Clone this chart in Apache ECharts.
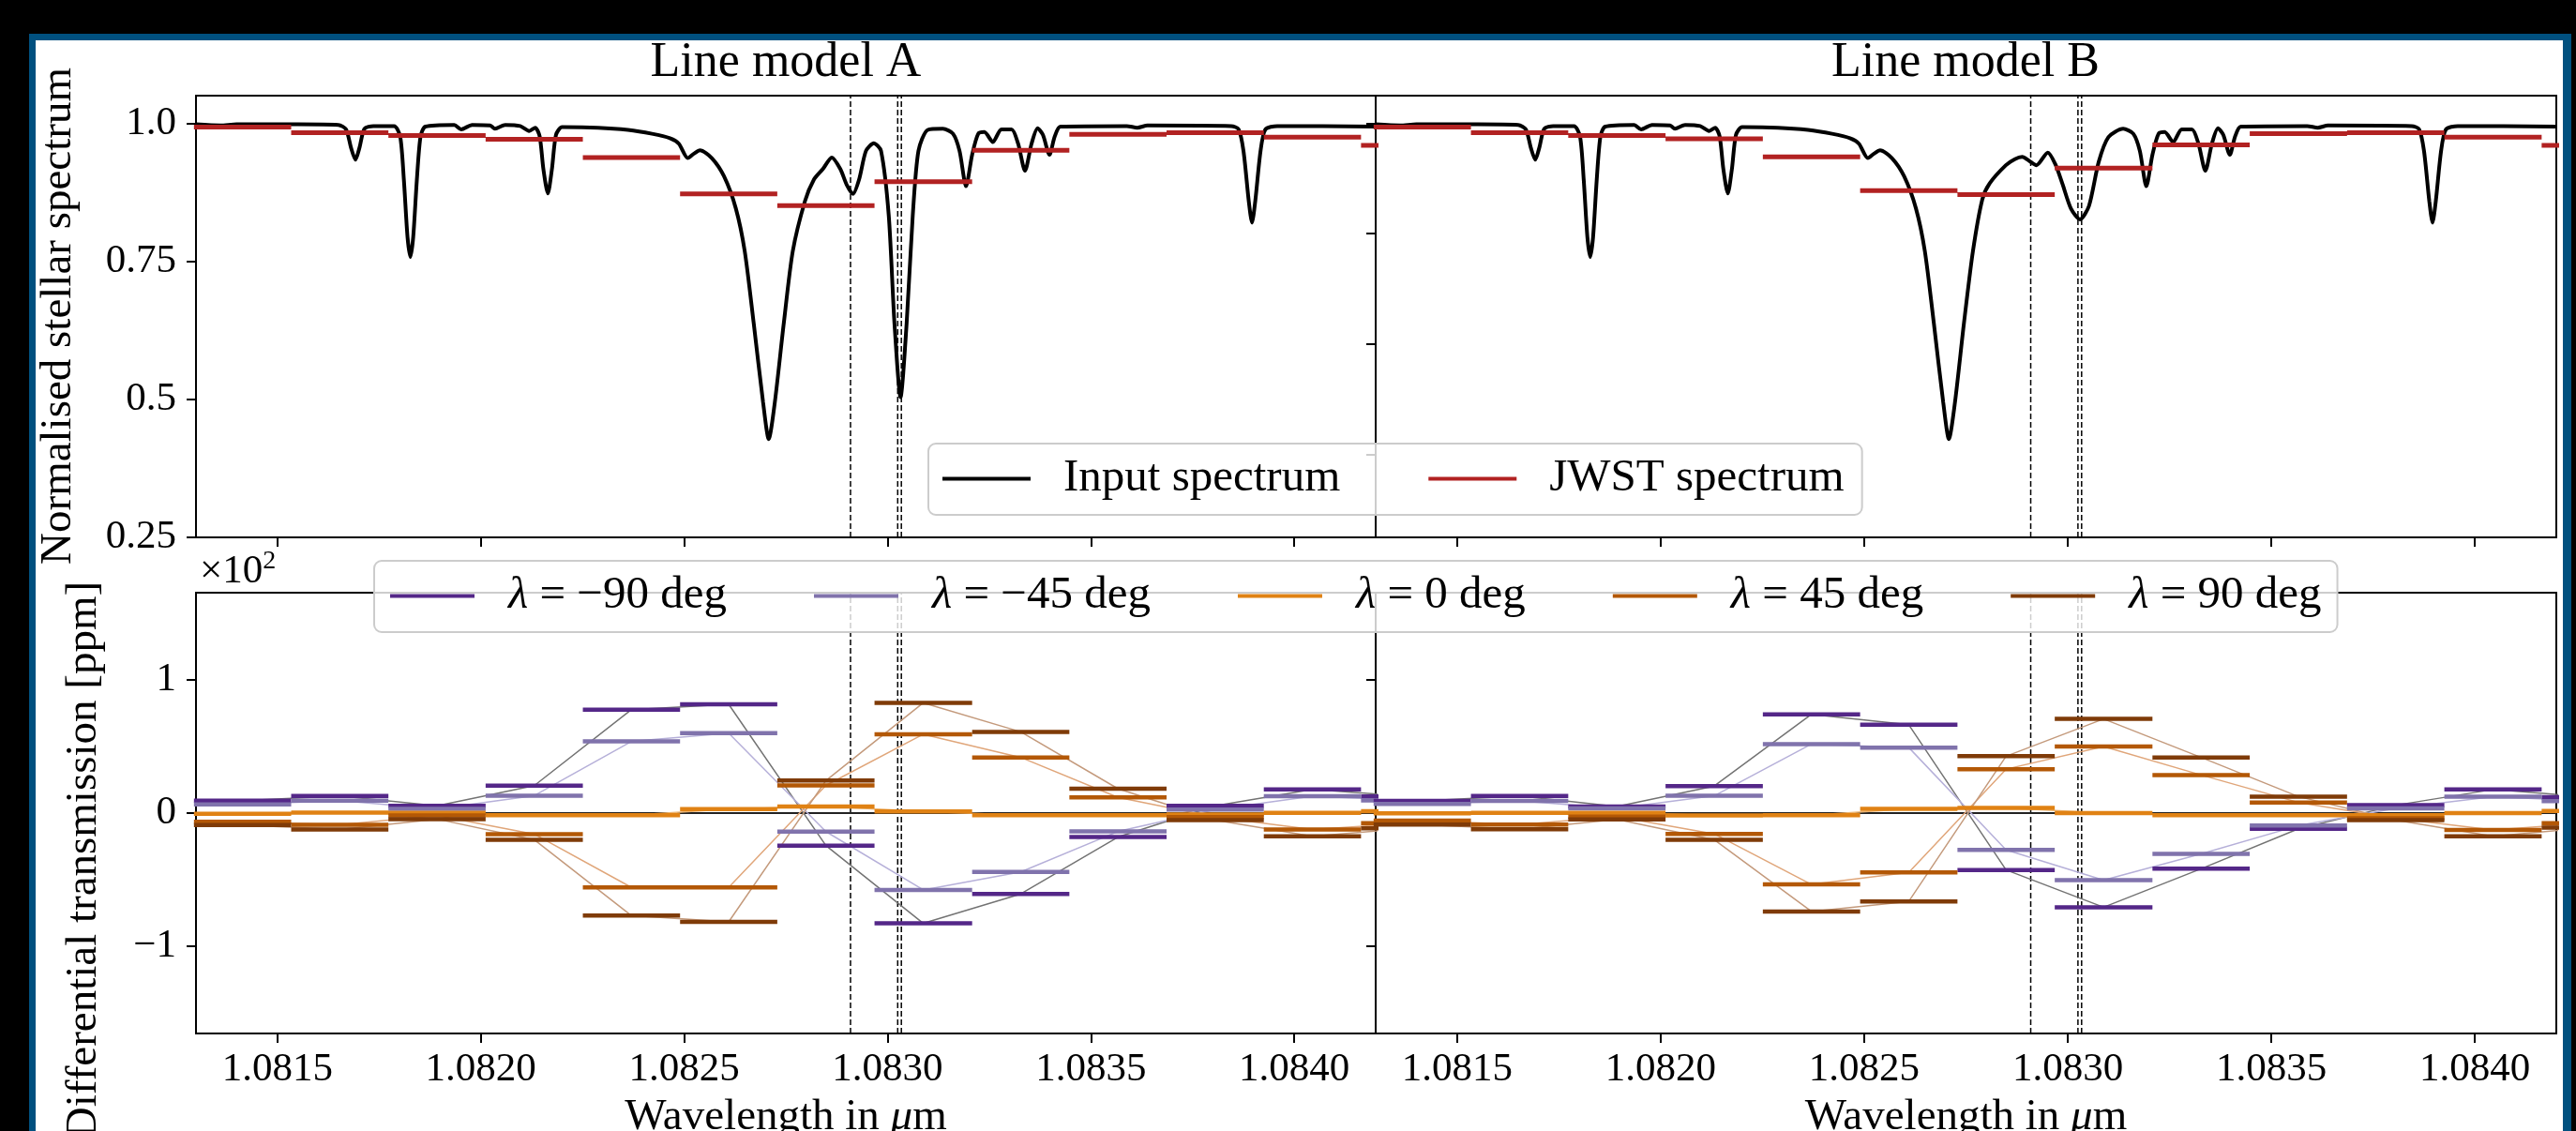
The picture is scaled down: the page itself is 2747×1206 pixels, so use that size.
<!DOCTYPE html>
<html>
<head>
<meta charset="utf-8">
<title>Line model A / B</title>
<script src="https://cdn.jsdelivr.net/npm/echarts@6/dist/echarts.min.js"></script>
<style>
  html, body { margin: 0; padding: 0; background: #000; }
  #frame { position: absolute; left: 31px; top: 36px; width: 2711px; height: 1200px; background: #00507f; }
  #paper { position: absolute; left: 38px; top: 43px; width: 2695px; height: 1170px; background: #fff; }
  #chart { position: absolute; left: 0; top: 0; width: 2747px; height: 1206px; }
</style>
</head>
<body>
<div id="frame"></div>
<div id="paper"></div>
<div id="chart"></div>
<script>
// JWST pixel bins (edges, in micron)
var binEdges = [1.081295, 1.081534, 1.081773, 1.082012, 1.082251, 1.082490, 1.082729,
                1.082968, 1.083208, 1.083447, 1.083686, 1.083925, 1.084164, 1.084403];

// binned JWST spectrum
var jwstA = [0.993, 0.983, 0.978, 0.971, 0.938, 0.872, 0.851, 0.894, 0.951, 0.980, 0.983, 0.975, 0.960];
var jwstB = [0.993, 0.983, 0.978, 0.972, 0.939, 0.878, 0.871, 0.919, 0.961, 0.981, 0.983, 0.975, 0.960];

// input stellar spectrum [wavelength, flux]
var specA = [
  [1.081300, 0.998], [1.081360, 0.996], [1.081400, 0.998], [1.081550, 0.998], [1.081650, 0.997],
  [1.081669, 0.989], [1.081681, 0.956], [1.081692, 0.934], [1.081702, 0.956], [1.081714, 0.990],
  [1.081736, 0.995], [1.081787, 0.995], [1.081802, 0.976], [1.081811, 0.898], [1.081820, 0.794],
  [1.081827, 0.758], [1.081834, 0.794], [1.081843, 0.898], [1.081852, 0.976], [1.081864, 0.994],
  [1.081935, 0.997], [1.081952, 0.989], [1.081979, 0.997], [1.082023, 0.996], [1.082035, 0.990],
  [1.082060, 0.997], [1.082097, 0.995], [1.082119, 0.986], [1.082134, 0.992], [1.082145, 0.976],
  [1.082154, 0.917], [1.082165, 0.873], [1.082175, 0.917], [1.082185, 0.979], [1.082200, 0.993],
  [1.082288, 0.992], [1.082362, 0.988], [1.082421, 0.981], [1.082465, 0.973], [1.082487, 0.963],
  [1.082509, 0.937], [1.082524, 0.945], [1.082539, 0.951], [1.082568, 0.937], [1.082598, 0.904],
  [1.082627, 0.846], [1.082649, 0.768], [1.082671, 0.638], [1.082694, 0.495], [1.082708, 0.428],
  [1.082723, 0.495], [1.082745, 0.638], [1.082767, 0.768], [1.082797, 0.859], [1.082819, 0.898],
  [1.082841, 0.917], [1.082863, 0.938], [1.082884, 0.917], [1.082900, 0.888], [1.082915, 0.872],
  [1.082930, 0.898], [1.082947, 0.950], [1.082966, 0.964], [1.082984, 0.950], [1.083003, 0.833],
  [1.083017, 0.638], [1.083032, 0.504], [1.083047, 0.638], [1.083062, 0.833], [1.083076, 0.950],
  [1.083099, 0.988], [1.083136, 0.990], [1.083161, 0.981], [1.083177, 0.950], [1.083193, 0.886],
  [1.083208, 0.943], [1.083223, 0.981], [1.083238, 0.984], [1.083259, 0.966], [1.083280, 0.989],
  [1.083305, 0.989], [1.083321, 0.963], [1.083338, 0.914], [1.083354, 0.963], [1.083369, 0.991],
  [1.083382, 0.979], [1.083398, 0.943], [1.083411, 0.976], [1.083425, 0.994], [1.083588, 0.995],
  [1.083614, 0.992], [1.083639, 0.996], [1.083845, 0.995], [1.083863, 0.989], [1.083875, 0.950],
  [1.083888, 0.859], [1.083896, 0.820], [1.083904, 0.859], [1.083917, 0.950], [1.083929, 0.989],
  [1.083958, 0.995], [1.084200, 0.994]
];
var specB = [
  [1.081300, 0.998], [1.081360, 0.996], [1.081400, 0.998], [1.081550, 0.998], [1.081650, 0.997],
  [1.081669, 0.989], [1.081681, 0.956], [1.081692, 0.934], [1.081702, 0.956], [1.081714, 0.990],
  [1.081736, 0.995], [1.081787, 0.995], [1.081802, 0.976], [1.081811, 0.898], [1.081820, 0.794],
  [1.081827, 0.758], [1.081834, 0.794], [1.081843, 0.898], [1.081852, 0.976], [1.081864, 0.994],
  [1.081935, 0.997], [1.081952, 0.989], [1.081979, 0.997], [1.082023, 0.996], [1.082035, 0.990],
  [1.082060, 0.997], [1.082097, 0.995], [1.082119, 0.986], [1.082134, 0.992], [1.082145, 0.976],
  [1.082154, 0.917], [1.082165, 0.873], [1.082175, 0.917], [1.082185, 0.979], [1.082200, 0.993],
  [1.082288, 0.992], [1.082362, 0.988], [1.082421, 0.981], [1.082465, 0.973], [1.082487, 0.963],
  [1.082509, 0.937], [1.082524, 0.945], [1.082539, 0.951], [1.082568, 0.937], [1.082598, 0.904],
  [1.082627, 0.846], [1.082649, 0.768], [1.082671, 0.638], [1.082694, 0.495], [1.082708, 0.428],
  [1.082723, 0.495], [1.082745, 0.638], [1.082767, 0.768], [1.082790, 0.862], [1.082808, 0.891],
  [1.082848, 0.924], [1.082870, 0.935], [1.082888, 0.939], [1.082905, 0.932], [1.082923, 0.924],
  [1.082951, 0.947], [1.082970, 0.925], [1.082987, 0.890], [1.083008, 0.845], [1.083030, 0.826],
  [1.083052, 0.850], [1.083076, 0.930], [1.083100, 0.975], [1.083136, 0.990], [1.083161, 0.981],
  [1.083177, 0.950], [1.083193, 0.886], [1.083208, 0.943], [1.083223, 0.981], [1.083238, 0.984],
  [1.083259, 0.966], [1.083280, 0.989], [1.083305, 0.989], [1.083321, 0.963], [1.083338, 0.914],
  [1.083354, 0.963], [1.083369, 0.991], [1.083382, 0.979], [1.083398, 0.943], [1.083411, 0.976],
  [1.083425, 0.994], [1.083588, 0.995], [1.083614, 0.992], [1.083639, 0.996], [1.083845, 0.995],
  [1.083863, 0.989], [1.083875, 0.950], [1.083888, 0.859], [1.083896, 0.820], [1.083904, 0.859],
  [1.083917, 0.950], [1.083929, 0.989], [1.083958, 0.995], [1.084200, 0.994]
];

// He I triplet positions
var heLines = [1.082909, 1.083025, 1.083034];

// differential transmission per bin, ppm
var angleNames = ['λ = −90 deg', 'λ = −45 deg', 'λ = 0 deg', 'λ = 45 deg', 'λ = 90 deg'];
var diffA_m90 = [9.4, 12.9, 5.4, 20.6, 77.7, 81.7, -24.4, -82.8, -60.7, -18.0, 5.4, 17.8, 12.5];
var diffA_m45 = [6.6, 9.4, 3.1, 13.1, 53.8, 60.1, -13.9, -57.7, -44.2, -13.8, 2.7, 12.6, 9.5];
var diffA_0   = [-0.5, 0.4, 0.2, -1.6, -1.6, 3.0, 5.0, 1.2, -1.5, -1.5, -1.0, 0.2, 1.4];
var diffA_p45 = [-6.5, -8.8, -1.8, -15.8, -55.8, -55.8, 20.8, 59.2, 41.8, 11.8, -3.0, -12.4, -7.5];
var diffA_p90 = [-8.9, -12.4, -4.5, -20.0, -77.0, -81.7, 24.4, 82.8, 61.0, 18.3, -5.3, -17.4, -11.5];
var diffB_m90 = [9.2, 12.9, 5.0, 20.3, 74.2, 66.3, -42.7, -70.7, -41.8, -11.8, 5.9, 17.7, 12.0];
var diffB_m45 = [6.8, 9.2, 3.5, 13.0, 51.8, 49.2, -27.7, -50.4, -30.6, -9.4, 3.5, 12.4, 9.0];
var diffB_0   = [-0.2, 0.2, 0.2, -1.8, -1.5, 3.2, 3.8, 0.0, -1.5, -1.5, -1.5, 0.0, 1.5];
var diffB_p45 = [-5.6, -8.7, -2.7, -15.6, -53.6, -44.5, 33.0, 50.0, 28.6, 8.0, -3.8, -12.7, -7.5];
var diffB_p90 = [-8.7, -12.2, -4.7, -20.0, -73.9, -66.3, 42.7, 70.7, 41.8, 12.4, -5.3, -17.4, -11.0];

// ticks
var xTicks = [1.0815, 1.0820, 1.0825, 1.0830, 1.0835, 1.0840];
var xTickLabels = ['1.0815', '1.0820', '1.0825', '1.0830', '1.0835', '1.0840'];
var specTicks = [0.25, 0.5, 0.75, 1.0];
var specTickLabels = ['0.25', '0.5', '0.75', '1.0'];
var specTicksRight = [0.4, 0.6, 0.8, 1.0];
var diffTicks = [-100, 0, 100];
var diffTickLabels = ['−1', '0', '1'];

var SPEC_MIN = 0.25, SPEC_MAX = 1.05, DIFF_LIM = 165.5;
var FONT = "'Liberation Serif', 'DejaVu Serif', serif";
var angleColors = ['#542788', '#8073ac', '#e08214', '#b35806', '#7f3b08'];
var linkColors = ['#737373', '#b6b0d9', '#ecb36f', '#e0a67a', '#c49a7c'];

function steps(values) {
  var out = [];
  values.forEach(function (v, i) {
    out.push([binEdges[i], v], [binEdges[i + 1], v], [binEdges[i + 1], '-']);
  });
  return out;
}
function centres(values) {
  return values.map(function (v, i) {
    return [(binEdges[i] + binEdges[i + 1]) / 2, v];
  });
}
function vlines(lo, hi) {
  var out = [];
  heLines.forEach(function (x) { out.push([x, lo], [x, hi], [x, '-']); });
  return out;
}
function lookup(ticks, labels) {
  return function (v) {
    for (var i = 0; i < ticks.length; i++) {
      if (Math.abs(ticks[i] - v) < 1e-7) return labels[i];
    }
    return '';
  };
}

var tickStyle = { color: '#000', width: 2 };

function xAxisFor(gi, withLabels) {
  return {
    type: 'value', gridIndex: gi, min: 1.0813, max: 1.0842,
    axisLine: { show: false, onZero: false },
    splitLine: { show: false },
    axisTick: { show: true, length: 10, lineStyle: tickStyle, customValues: xTicks },
    axisLabel: {
      show: withLabels, customValues: xTicks, margin: 17,
      formatter: lookup(xTicks, xTickLabels),
      fontFamily: FONT, fontSize: 43, color: '#000'
    },
    name: withLabels ? 'Wavelength in {i|μ}m' : '',
    nameLocation: 'middle', nameGap: 66,
    nameTextStyle: {
      fontFamily: FONT, fontSize: 47, color: '#000',
      rich: { i: { fontFamily: FONT, fontSize: 47, fontStyle: 'italic', color: '#000' } }
    }
  };
}
function yAxisFor(gi, min, max, ticks, labels) {
  return {
    type: 'value', gridIndex: gi, min: min, max: max,
    axisLine: { show: false },
    splitLine: { show: false },
    axisTick: { show: true, length: 10, lineStyle: tickStyle, customValues: ticks },
    axisLabel: {
      show: !!labels, customValues: ticks, margin: 21,
      formatter: labels ? lookup(ticks, labels) : '',
      fontFamily: FONT, fontSize: 43, color: '#000'
    }
  };
}
function gridAt(left, top, width, height) {
  return {
    left: left, top: top, width: width, height: height,
    show: true, borderColor: '#000', borderWidth: 2, backgroundColor: 'transparent',
    outerBoundsMode: 'none', containLabel: false
  };
}
function dashed(gi, lo, hi) {
  return {
    name: 'He I', type: 'line', xAxisIndex: gi, yAxisIndex: gi,
    data: vlines(lo, hi), symbol: 'none', z: 1, silent: true,
    lineStyle: { color: '#000', width: 1.5, type: 'dashed' }, itemStyle: { color: '#000' }
  };
}

var series = [];
[[specA, jwstA], [specB, jwstB]].forEach(function (pair, gi) {
  series.push(dashed(gi, SPEC_MIN, SPEC_MAX));
  series.push({
    name: 'Input spectrum', type: 'line', xAxisIndex: gi, yAxisIndex: gi,
    data: pair[0], symbol: 'none', smooth: 0.25, z: 2,
    lineStyle: { color: '#000', width: 4 }, itemStyle: { color: '#000' }
  });
  series.push({
    name: 'JWST spectrum', type: 'line', xAxisIndex: gi, yAxisIndex: gi,
    data: steps(pair[1]), symbol: 'none', z: 3,
    lineStyle: { color: '#b22222', width: 5 }, itemStyle: { color: '#b22222' }
  });
});

[[diffA_m90, diffA_m45, diffA_0, diffA_p45, diffA_p90],
 [diffB_m90, diffB_m45, diffB_0, diffB_p45, diffB_p90]].forEach(function (sets, j) {
  var gi = j + 2;
  series.push(dashed(gi, -DIFF_LIM, DIFF_LIM));
  series.push({
    name: 'zero', type: 'line', xAxisIndex: gi, yAxisIndex: gi,
    data: [[1.0813, 0], [1.0842, 0]], symbol: 'none', z: 1, silent: true,
    lineStyle: { color: '#222', width: 2 }, itemStyle: { color: '#222' }
  });
  sets.forEach(function (vals, k) {
    series.push({
      name: 'link ' + k, type: 'line', xAxisIndex: gi, yAxisIndex: gi,
      data: centres(vals), symbol: 'none', z: 2,
      lineStyle: { color: linkColors[k], width: 1.5 }, itemStyle: { color: linkColors[k] }
    });
  });
  sets.forEach(function (vals, k) {
    series.push({
      name: angleNames[k], type: 'line', xAxisIndex: gi, yAxisIndex: gi,
      data: steps(vals), symbol: 'none', z: 3,
      lineStyle: { color: angleColors[k], width: 4.5 }, itemStyle: { color: angleColors[k] }
    });
  });
});

var legendBase = {
  orient: 'horizontal', icon: 'rect', itemHeight: 4, selectedMode: false,
  backgroundColor: 'rgba(255,255,255,0.8)', borderColor: '#cccccc', borderWidth: 2, borderRadius: 8
};

var chart = echarts.init(document.getElementById('chart'), null, { renderer: 'canvas' });
chart.setOption({
  animation: false,
  backgroundColor: 'transparent',
  title: [
    { text: 'Line model A', left: 838, top: 41, textAlign: 'center', padding: 0,
      textStyle: { fontFamily: FONT, fontSize: 52, fontWeight: 'normal', color: '#000' } },
    { text: 'Line model B', left: 2096, top: 41, textAlign: 'center', padding: 0,
      textStyle: { fontFamily: FONT, fontSize: 52, fontWeight: 'normal', color: '#000' } }
  ],
  grid: [
    gridAt(209, 102, 1258, 471),
    gridAt(1467, 102, 1259, 471),
    gridAt(209, 632, 1258, 470),
    gridAt(1467, 632, 1259, 470)
  ],
  xAxis: [xAxisFor(0, false), xAxisFor(1, false), xAxisFor(2, true), xAxisFor(3, true)],
  yAxis: [
    yAxisFor(0, SPEC_MIN, SPEC_MAX, specTicks, specTickLabels),
    yAxisFor(1, SPEC_MIN, SPEC_MAX, specTicksRight, null),
    yAxisFor(2, -DIFF_LIM, DIFF_LIM, diffTicks, diffTickLabels),
    yAxisFor(3, -DIFF_LIM, DIFF_LIM, diffTicks, null)
  ],
  legend: [
    Object.assign({}, legendBase, {
      data: ['Input spectrum', 'JWST spectrum'],
      left: 990, top: 473, itemWidth: 94, itemGap: 94, padding: [13, 19, 14, 15],
      textStyle: { fontFamily: FONT, fontSize: 49, color: '#000', padding: [0, 0, 0, 30] }
    }),
    Object.assign({}, legendBase, {
      data: angleNames,
      left: 399, top: 598, itemWidth: 90, itemGap: 93, padding: [13, 17, 14, 17],
      formatter: function (name) { return name.replace('λ', '{i|λ}'); },
      textStyle: {
        fontFamily: FONT, fontSize: 49, color: '#000', padding: [0, 0, 0, 31],
        rich: { i: { fontFamily: FONT, fontSize: 49, fontStyle: 'italic', color: '#000' } }
      }
    })
  ],
  graphic: [
    { type: 'text', x: 63, y: 337, rotation: Math.PI / 2, silent: true,
      style: { text: 'Normalised stellar spectrum', font: '47px ' + FONT, fill: '#000',
               align: 'center', verticalAlign: 'middle' } },
    { type: 'text', x: 90, y: 917, rotation: Math.PI / 2, silent: true,
      style: { text: 'Differential transmission [ppm]', font: '47px ' + FONT, fill: '#000',
               align: 'center', verticalAlign: 'middle' } },
    { type: 'text', x: 213, y: 610, silent: true,
      style: { text: '×10{s|2}', font: '43px ' + FONT, fill: '#000', verticalAlign: 'middle',
               rich: { s: { font: '28px ' + FONT, fill: '#000', verticalAlign: 'bottom', padding: [0, 0, 22, 0] } } } }
  ],
  series: series
});
</script>
</body>
</html>
